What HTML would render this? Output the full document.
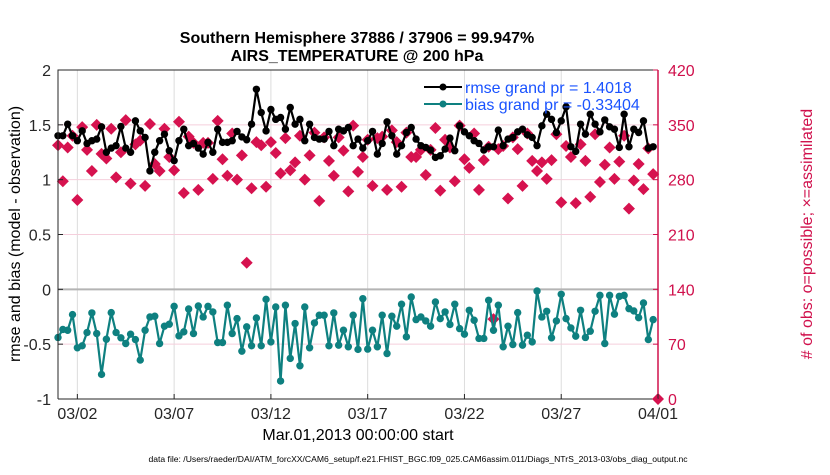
<!DOCTYPE html>
<html><head><meta charset="utf-8"><style>
body{margin:0;background:#fff;}
svg text{font-family:"Liberation Sans",Arial,sans-serif;}
</style></head><body>
<svg id="chart" width="830" height="470" xmlns="http://www.w3.org/2000/svg">
<rect width="830" height="470" fill="#fff"/>
<g id="grid"></g>
<g id="series"></g>
<g id="axes"></g>
<text x="357" y="43" font-size="16" font-weight="bold" text-anchor="middle">Southern Hemisphere 37886 / 37906 = 99.947%</text>
<text x="357" y="61" font-size="16" font-weight="bold" text-anchor="middle">AIRS_TEMPERATURE @ 200 hPa</text>
<text transform="translate(20,234) rotate(-90)" font-size="16" text-anchor="middle">rmse and bias (model - observation)</text>
<text transform="translate(812,234) rotate(-90)" font-size="16" text-anchor="middle" fill="#d0104c"># of obs: o=possible; ×=assimilated</text>
<text x="358" y="440" font-size="16" text-anchor="middle">Mar.01,2013 00:00:00 start</text>
<text x="418" y="462" font-size="8.6" text-anchor="middle">data file: /Users/raeder/DAI/ATM_forcXX/CAM6_setup/f.e21.FHIST_BGC.f09_025.CAM6assim.011/Diags_NTrS_2013-03/obs_diag_output.nc</text>
<g>
<line x1="424" y1="87" x2="462" y2="87" stroke="#000" stroke-width="2"/>
<circle cx="443" cy="87" r="3.5" fill="#000"/>
<text x="465" y="93" font-size="16" fill="#1a53ff">rmse grand pr = 1.4018</text>
<line x1="424" y1="104" x2="462" y2="104" stroke="#0e8080" stroke-width="2"/>
<circle cx="443" cy="104" r="3.5" fill="#0e8080"/>
<text x="465" y="110" font-size="16" fill="#1a53ff">bias grand pr = -0.33404</text>
</g>
</svg>
<script>
const rmse=[1.40,1.40,1.506,1.40,1.355,1.445,1.33,1.355,1.37,1.482,1.25,1.288,1.31,1.485,1.288,1.25,1.536,1.445,1.385,1.08,1.25,1.355,1.415,1.264,1.173,1.355,1.46,1.31,1.33,1.288,1.233,1.34,1.25,1.46,1.34,1.34,1.355,1.44,1.39,1.364,1.506,1.824,1.612,1.445,1.64,1.55,1.567,1.46,1.658,1.506,1.55,1.355,1.506,1.385,1.37,1.37,1.44,1.31,1.46,1.445,1.476,1.31,1.37,1.288,
1.355,1.44,1.233,1.33,1.527,1.40,1.233,1.31,1.43,1.476,1.37,1.31,1.294,1.27,1.203,1.218,1.279,1.379,1.264,1.491,1.436,1.40,1.355,1.33,1.27,1.30,1.30,1.452,1.31,1.37,1.385,1.436,1.46,1.409,1.385,1.31,1.491,1.597,1.55,1.43,1.536,1.664,1.30,1.258,1.506,1.415,1.597,1.506,1.436,1.545,1.482,1.46,1.294,1.597,1.30,1.46,1.43,1.536,1.288,1.30];
const bias=[-0.439,-0.366,-0.373,-0.230,-0.533,-0.515,-0.394,-0.215,-0.403,-0.776,-0.455,-0.212,-0.394,-0.442,-0.494,-0.409,-0.458,-0.645,-0.373,-0.252,-0.245,-0.494,-0.336,-0.318,-0.155,-0.424,-0.388,-0.179,-0.403,-0.152,-0.252,-0.155,-0.206,-0.485,-0.485,-0.145,-0.403,-0.267,-0.564,-0.342,-0.515,-0.261,-0.515,-0.091,-0.479,-0.161,-0.836,-0.145,-0.630,-0.312,-0.697,-0.161,-0.533,-0.306,-0.236,-0.236,-0.515,-0.215,-0.509,-0.373,-0.524,-0.236,-0.548,-0.085,
-0.545,-0.373,-0.524,-0.236,-0.585,-0.245,-0.336,-0.136,-0.433,-0.070,-0.276,-0.252,-0.288,-0.336,-0.115,-0.267,-0.206,-0.321,-0.136,-0.358,-0.409,-0.191,-0.282,-0.448,-0.448,-0.100,-0.373,-0.145,-0.524,-0.336,-0.503,-0.212,-0.509,-0.418,-0.479,-0.015,-0.252,-0.200,-0.442,-0.288,-0.045,-0.267,-0.352,-0.427,-0.191,-0.439,-0.382,-0.200,-0.055,-0.494,-0.055,-0.227,-0.064,-0.055,-0.176,-0.197,-0.258,-0.124,-0.458,-0.276];
const nobs=[324,278,321,336,254,347,318,291,350,313,307,345,283,315,356,275,325,330,272,351,300,291,345,309,292,354,263,335,327,267,327,327,281,355,306,285,339,280,311,174,269,328,324,271,328,314,288,333,292,302,336,280,311,340,253,334,304,285,334,317,265,349,290,309,
331,272,333,335,267,343,328,271,340,309,309,318,286,318,346,266,331,321,278,349,306,295,339,267,305,322,102,319,323,256,334,319,272,339,304,291,302,281,305,338,251,323,309,250,325,304,258,338,277,299,321,281,303,336,243,279,300,268,320,287];
const xTickDays=[1,6,11,16,21,26,31];
const xTickLabels=["03/02","03/07","03/12","03/17","03/22","03/27","04/01"];
const leftTicks=[2,1.5,1,0.5,0,-0.5,-1];
const rightTicks=[420,350,280,210,140,70,0];

const X0=58,X1=658,Y0=70,Y1=399;
const xs=d=>X0+(X1-X0)*d/31;
const yl=v=>Y1-(v+1)/3*(Y1-Y0);
const yr=v=>Y1-v/420*(Y1-Y0);
const NS="http://www.w3.org/2000/svg";
function mk(tag,attrs,parent){const e=document.createElementNS(NS,tag);for(const k in attrs)e.setAttribute(k,attrs[k]);parent.appendChild(e);return e;}
const grid=document.getElementById('grid'),ser=document.getElementById('series'),ax=document.getElementById('axes');

xTickDays.forEach(d=>{const l=mk('line',{x1:xs(d),x2:xs(d),y1:Y0,y2:Y1,stroke:'#dcdcdc','stroke-width':1},grid);

});
rightTicks.forEach(v=>{if(v===0||v===420)return;const l=mk('line',{x1:X0,x2:X1,y1:yr(v),y2:yr(v),stroke:'#f5cfdc','stroke-width':1},grid);

});
const zl=mk('line',{x1:X0,x2:X1,y1:yl(0),y2:yl(0),stroke:'#b4b4b4','stroke-width':2},grid);



nobs.forEach((v,i)=>{const x=xs(i/4),y=yr(v);const p=mk('path',{d:`M${x} ${y-6}L${x+6} ${y}L${x} ${y+6}L${x-6} ${y}Z`,fill:'#d6124f'},ser);

});
function line(arr,col,name){const pts=arr.map((v,i)=>xs(i/4)+','+yl(v)).join(' ');
const pl=mk('polyline',{points:pts,fill:'none',stroke:col,'stroke-width':2.2,'stroke-linejoin':'round'},ser);


arr.forEach((v,i)=>{const c=mk('circle',{cx:xs(i/4),cy:yl(v),r:3.7,fill:col},ser);

});}
line(rmse,'#000','rmse');
line(bias,'#0e8080','bias');

const bx=mk('path',{d:`M${X0} ${Y1}L${X0} ${Y0}L${X1} ${Y0}M${X0} ${Y1}L${X1} ${Y1}`,fill:'none',stroke:'#262626','stroke-width':1},ax);


const ra=mk('line',{x1:X1,x2:X1,y1:Y0,y2:Y1,stroke:'#d0104c','stroke-width':1.5},ax);


const z=mk('path',{d:`M${X1} ${Y1-6}L${X1+6} ${Y1}L${X1} ${Y1+6}L${X1-6} ${Y1}Z`,fill:'#d6124f'},ax);


xTickDays.forEach((d,i)=>{mk('line',{x1:xs(d),x2:xs(d),y1:Y1,y2:Y1-5,stroke:'#262626'},ax);
const t=mk('text',{x:xs(d),y:Y1+20,'font-size':16,'text-anchor':'middle',fill:'#262626'},ax);t.textContent=xTickLabels[i];

});
leftTicks.forEach(v=>{mk('line',{x1:X0,x2:X0+5,y1:yl(v),y2:yl(v),stroke:'#262626'},ax);
const t=mk('text',{x:X0-7,y:yl(v)+6,'font-size':16,'text-anchor':'end',fill:'#262626'},ax);t.textContent=String(v);

});
rightTicks.forEach(v=>{mk('line',{x1:X1,x2:X1-5,y1:yr(v),y2:yr(v),stroke:'#d0104c'},ax);
const t=mk('text',{x:X1+10,y:yr(v)+6,'font-size':16,fill:'#d0104c'},ax);t.textContent=String(v);

});
</script>
</body></html>
